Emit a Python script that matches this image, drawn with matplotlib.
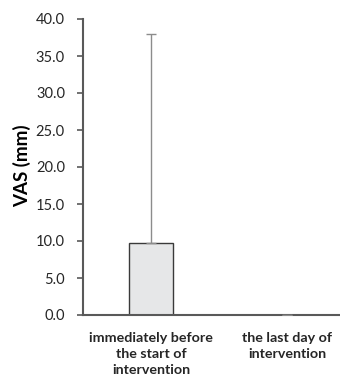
import matplotlib
matplotlib.use("Agg")
import matplotlib.pyplot as plt

categories = ["immediately before\nthe start of\nintervention", "the last day of\nintervention"]
values = [9.7, 0.0]
errors = [28.3, 0.0]
yticks = [0, 5, 10, 15, 20, 25, 30, 35, 40]

plt.rcParams['font.family'] = ['Lato', 'DejaVu Sans']

fig = plt.figure(figsize=(3.4, 3.79), dpi=100)
ax = fig.add_axes([83/340, 1 - 315/379, 1 - 83/340, (315 - 19)/379])

x = list(range(len(categories)))
ax.bar(x, values, width=0.32, color="#e6e7e8", edgecolor="#3a3a3a", linewidth=1.0, zorder=2)
ax.errorbar(x, values, yerr=[[0]*len(errors), errors], fmt="none", ecolor="#8c8c8c",
            elinewidth=1.0, capsize=3.5, capthick=1.0, zorder=3)

ax.set_xlim(-0.5, 1.39)
ax.set_ylim(0, 40)
ax.set_yticks(yticks)
ax.set_yticklabels([f"{v:.1f}" for v in yticks], fontsize=10.5, color="#262626")
ax.set_xticks(x)
ax.set_xticklabels(categories, fontsize=10.3, fontweight="bold", color="#262626", linespacing=1.4)
ax.tick_params(axis="x", length=0, pad=12)
ax.tick_params(axis="y", length=4, width=1.2, color="#595959", pad=9)
ax.set_ylabel("VAS (mm)", fontsize=13.5, fontweight="bold")
ax.yaxis.set_label_coords((31 - 83)/257, (315 - 166)/296)

for s in ["top", "right"]:
    ax.spines[s].set_visible(False)
for s in ["left", "bottom"]:
    ax.spines[s].set_color("#595959")
    ax.spines[s].set_linewidth(1.5)

fig.savefig("out.png", dpi=100)
